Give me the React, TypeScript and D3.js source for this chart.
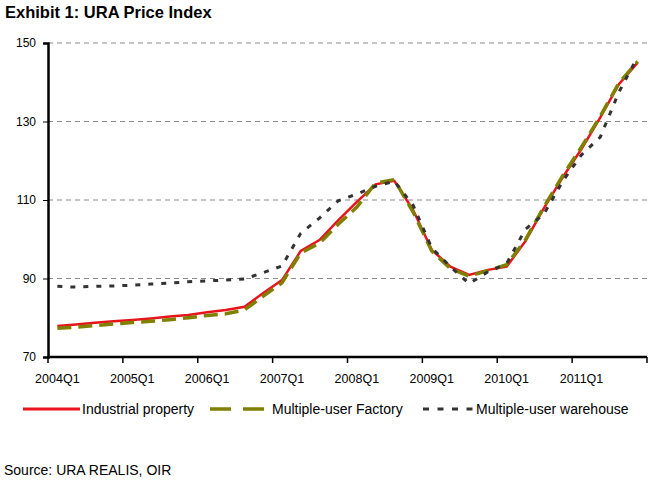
import React, { useEffect, useRef } from "react";
import * as d3 from "d3";

// quarterly categories, 2004Q1 .. 2011Q4
const quarters = [
  "2004Q1", "2004Q2", "2004Q3", "2004Q4",
  "2005Q1", "2005Q2", "2005Q3", "2005Q4",
  "2006Q1", "2006Q2", "2006Q3", "2006Q4",
  "2007Q1", "2007Q2", "2007Q3", "2007Q4",
  "2008Q1", "2008Q2", "2008Q3", "2008Q4",
  "2009Q1", "2009Q2", "2009Q3", "2009Q4",
  "2010Q1", "2010Q2", "2010Q3", "2010Q4",
  "2011Q1", "2011Q2", "2011Q3", "2011Q4",
];

const industrial = [
  77.9, 78.3, 78.7, 79.1, 79.4, 79.8, 80.3, 80.7,
  81.4, 82.0, 82.8, 86.3, 89.6, 97.0, 99.8, 104.8,
  109.5, 114.0, 114.9, 107.5, 97.3, 93.0, 90.9, 92.2,
  93.0, 99.5, 108.0, 115.8, 123.0, 131.0, 139.5, 145.0,
];

const factory = [
  77.3, 77.6, 78.0, 78.4, 78.8, 79.1, 79.5, 80.0,
  80.6, 81.0, 82.0, 85.5, 88.9, 96.5, 99.0, 103.8,
  108.2, 114.3, 115.2, 107.0, 97.0, 92.5, 90.6, 92.0,
  93.5, 99.8, 108.3, 116.2, 123.5, 131.3, 139.8, 145.3,
];

const warehouse = [
  88.0, 87.8, 88.0, 88.1, 88.3, 88.6, 88.8, 89.2,
  89.4, 89.6, 89.9, 91.5, 93.2, 101.5, 105.4, 109.8,
  111.5, 113.5, 114.8, 108.7, 97.8, 93.0, 88.7, 91.7,
  93.8, 102.5, 106.5, 114.8, 121.5, 126.0, 137.5, 146.5,
];

const yTicks = [70, 90, 110, 130, 150];

const FONT = "'Liberation Sans', Arial, sans-serif";

const App: React.FC = () => {
  const d3Container = useRef<SVGSVGElement | null>(null);

  useEffect(() => {
    if (!d3Container.current) return;
    const svg = d3.select(d3Container.current);
    svg.selectAll("*").remove();

    const left = 48, right = 647, top = 43, bottom = 357;

    const x = d3.scaleBand<string>().domain(quarters).range([left, right]);
    const y = d3.scaleLinear().domain([70, 150]).range([bottom, top]);
    const cx = (q: string) => (x(q) || 0) + x.bandwidth() / 2;

    // title
    svg.append("text")
      .attr("x", 5).attr("y", 18)
      .style("font-family", FONT).style("font-weight", "bold").style("font-size", "16.5px")
      .text("Exhibit 1: URA Price Index");

    // gridlines
    svg.append("g").selectAll("line")
      .data(yTicks.filter((t) => t > 70))
      .join("line")
      .attr("x1", left).attr("x2", right)
      .attr("y1", (d) => y(d)).attr("y2", (d) => y(d))
      .attr("stroke", "#8c8c8c").attr("stroke-width", 1.2)
      .attr("stroke-dasharray", "5,4");

    // y axis
    const yAxis = svg.append("g")
      .attr("transform", `translate(${left},0)`)
      .call(d3.axisLeft(y).tickValues(yTicks).tickSize(5).tickPadding(7).tickFormat(d3.format("d")));
    yAxis.select(".domain").attr("stroke", "#000").attr("stroke-width", 2.5);
    yAxis.selectAll("text").style("font-family", FONT).style("font-size", "12px").attr("fill", "#000");

    // x axis: ticks at each year's boundary, labels on the Q1 category
    const boundaries = quarters.filter((q) => q.endsWith("Q1")).map((q) => x(q) || 0).concat([right]);
    const xg = svg.append("g");
    xg.append("line")
      .attr("x1", left).attr("x2", right).attr("y1", bottom).attr("y2", bottom)
      .attr("stroke", "#000").attr("stroke-width", 2.5);
    xg.selectAll("line.tick")
      .data(boundaries)
      .join("line")
      .attr("class", "tick")
      .attr("x1", (d) => d).attr("x2", (d) => d)
      .attr("y1", bottom).attr("y2", bottom + 6)
      .attr("stroke", "#000").attr("stroke-width", 1.5);
    xg.selectAll("text")
      .data(quarters.filter((q) => q.endsWith("Q1")))
      .join("text")
      .attr("x", (d) => cx(d))
      .attr("y", 383)
      .attr("text-anchor", "middle")
      .style("font-family", FONT).style("font-size", "12.5px")
      .text((d) => d);

    // lines
    const line = d3.line<number>()
      .x((_, i) => cx(quarters[i]))
      .y((d) => y(d));

    svg.append("path")
      .datum(industrial)
      .attr("fill", "none").attr("stroke", "#e8141b").attr("stroke-width", 2.5)
      .attr("d", line);

    svg.append("path")
      .datum(factory)
      .attr("fill", "none").attr("stroke", "#808000").attr("stroke-width", 3.5)
      .attr("stroke-dasharray", "14,7")
      .attr("d", line);

    svg.append("path")
      .datum(warehouse)
      .attr("fill", "none").attr("stroke", "#333333").attr("stroke-width", 3)
      .attr("stroke-dasharray", "5,8")
      .attr("d", line);

    // legend
    const ly = 409;
    const fs = "14px";
    const legend = svg.append("g");
    legend.append("line")
      .attr("x1", 23).attr("x2", 80).attr("y1", ly).attr("y2", ly)
      .attr("stroke", "#e8141b").attr("stroke-width", 3);
    legend.append("text")
      .attr("x", 82).attr("y", ly + 5)
      .style("font-family", FONT).style("font-size", fs)
      .text("Industrial property");

    legend.append("line")
      .attr("x1", 210).attr("x2", 264).attr("y1", ly).attr("y2", ly)
      .attr("stroke", "#808000").attr("stroke-width", 3.5)
      .attr("stroke-dasharray", "21,12");
    legend.append("text")
      .attr("x", 272).attr("y", ly + 5)
      .style("font-family", FONT).style("font-size", fs)
      .text("Multiple-user Factory");

    legend.append("line")
      .attr("x1", 423).attr("x2", 476).attr("y1", ly).attr("y2", ly)
      .attr("stroke", "#333333").attr("stroke-width", 3)
      .attr("stroke-dasharray", "6,8.5");
    legend.append("text")
      .attr("x", 476).attr("y", ly + 5)
      .style("font-family", FONT).style("font-size", fs)
      .text("Multiple-user warehouse");

    // source
    svg.append("text")
      .attr("x", 4).attr("y", 475)
      .style("font-family", FONT).style("font-size", "14px")
      .text("Source: URA REALIS, OIR");
  }, []);

  return (
    <svg
      ref={d3Container}
      width={654}
      height={485}
      style={{ position: "absolute", left: 0, top: 0, background: "#fff" }}
    />
  );
};

export default App;
